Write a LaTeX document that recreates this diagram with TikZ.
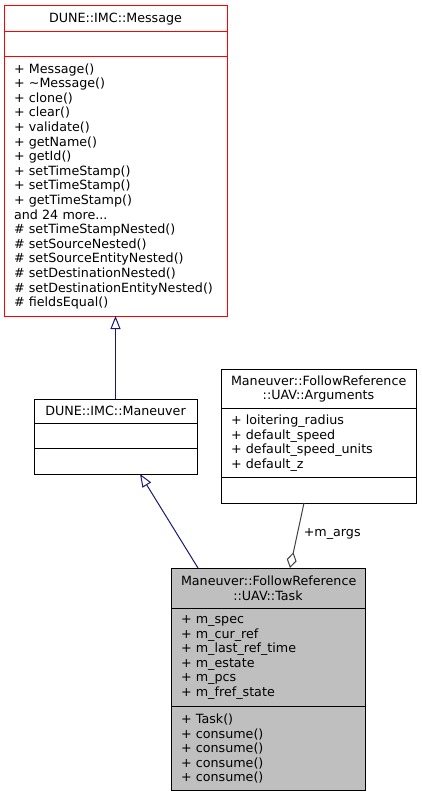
\documentclass[tikz,border=0pt]{standalone}
\usepackage{fontspec}
\setmainfont{DejaVu Sans}
\usetikzlibrary{arrows.meta,positioning,calc}
\definecolor{edgeblue}{RGB}{25,25,112}
\definecolor{edgegray}{RGB}{64,64,64}
\definecolor{taskgray}{RGB}{191,191,191}
\tikzset{
  part/.style={draw=black,line width=1pt,outer sep=0pt,inner xsep=10pt,inner ysep=2pt,font=\fontsize{12.7}{14.6}\selectfont},
  head/.style={part,align=center},
  list/.style={part,align=left},
  inherit/.style={-{Triangle[open,length=13pt,width=10pt]},draw=edgeblue,line width=1pt},
  member/.style={-{Diamond[open,length=16pt,width=10pt]},draw=edgegray,line width=1pt}
}

\begin{document}
\begin{tikzpicture}[x=1pt,y=-1pt]
  \useasboundingbox (0,0) rectangle (421,797);

  % base message class
  \node[head,draw=red,text width=203pt,minimum height=25.7pt,anchor=north west] (msg) at (4,6) {DUNE::IMC::Message};
  \node[list,draw=red,text width=203pt,minimum height=25pt,below=0pt of msg] (msgattr) {};
  \node[list,draw=red,text width=203pt,minimum height=259.3pt,below=0pt of msgattr] (msgops) {+ Message()\\+ \textasciitilde Message()\\+ clone()\\+ clear()\\+ validate()\\+ getName()\\+ getId()\\+ setTimeStamp()\\+ setTimeStamp()\\+ getTimeStamp()\\and 24 more...\\\# setTimeStampNested()\\\# setSourceNested()\\\# setSourceEntityNested()\\\# setDestinationNested()\\\# setDestinationEntityNested()\\\# fieldsEqual()};

  % maneuver
  \node[head,text width=143pt,minimum height=24.3pt,anchor=north west] (mnv) at (34,399) {DUNE::IMC::Maneuver};
  \node[list,text width=143pt,minimum height=25.4pt,below=0pt of mnv] (mnvattr) {};
  \node[list,text width=143pt,minimum height=25.3pt,below=0pt of mnvattr] (mnvops) {};

  % arguments
  \node[head,text width=175pt,minimum height=39.7pt,anchor=north west] (args) at (221,369) {Maneuver::FollowReference\\::UAV::Arguments};
  \node[list,text width=175pt,minimum height=69pt,below=0pt of args] (argsattr) {+ loitering\_radius\\+ default\_speed\\+ default\_speed\_units\\+ default\_z};
  \node[list,text width=175pt,minimum height=25.3pt,below=0pt of argsattr] (argsops) {};

  % task
  \node[head,fill=taskgray,text width=174pt,minimum height=40.3pt,anchor=north west] (task) at (171,568) {Maneuver::FollowReference\\::UAV::Task};
  \node[list,fill=taskgray,text width=174pt,minimum height=98.4pt,below=0pt of task] (taskattr) {+ m\_spec\\+ m\_cur\_ref\\+ m\_last\_ref\_time\\+ m\_estate\\+ m\_pcs\\+ m\_fref\_state};
  \node[list,fill=taskgray,text width=174pt,minimum height=84pt,below=0pt of taskattr] (taskops) {+ Task()\\+ consume()\\+ consume()\\+ consume()\\+ consume()};

  \draw[inherit] (mnv.north) -- (msgops.south);
  \draw[inherit] ($(task.north west)+(27,0)$) -- ($(mnvops.south west)+(106,0)$);
  \draw[member] ($(argsops.south west)+(83,0)$) -- node[pos=0.48,anchor=west,inner sep=0pt,xshift=6pt,font=\fontsize{12.7}{14.6}\selectfont]{+m\_args} ($(task.north west)+(119,0)$);
\end{tikzpicture}
\end{document}
